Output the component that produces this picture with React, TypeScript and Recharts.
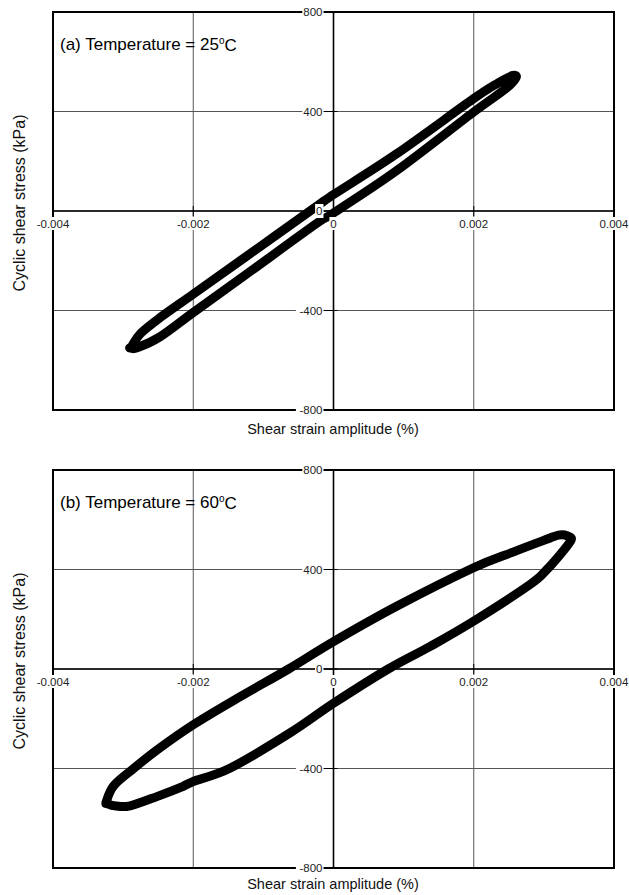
import React from 'react';
import { LineChart, Line, XAxis, YAxis, CartesianGrid, ReferenceLine, ReferenceArea } from 'recharts';

// ---- axis ticks ----
const xTicks = [-0.004, -0.002, 0, 0.002, 0.004];
const xTickLabels = ['-0.004', '-0.002', '0', '0.002', '0.004'];
const yTicks = [-800, -400, 0, 400, 800];
const yTickLabels = ['-800', '-400', '0', '400', '800'];

// ---- (a) 25 C hysteresis loop (strain, stress kPa) ----
const strain25 = [
  -0.00288, -0.00275, -0.00247, -0.002, -0.00128, -0.00025, 0.0, 0.0009, 0.00199, 0.00235, 0.00256,
  0.0026, 0.00245, 0.00199, 0.0009, 0.0, -0.00025, -0.00128, -0.002, -0.00247, -0.0028, -0.0029, -0.00288,
];
const stress25 = [
  -545, -492, -428, -334, -190, 17, 66, 230, 450, 515, 545,
  535, 490, 396, 162, -8, -52, -262, -408, -505, -550, -550, -545,
];

// ---- (b) 60 C hysteresis loop (strain, stress kPa) ----
const strain60 = [
  -0.00324, -0.00313, -0.00285, -0.00251, -0.002, -0.00133, -0.00064, 0.0, 0.0009, 0.00199, 0.00256,
  0.00299, 0.00321, 0.00334, 0.00339,
  0.00327, 0.00304, 0.0028, 0.00199, 0.00138, 0.00078, 0.0, -0.00062, -0.00147, -0.002, -0.00218,
  -0.00251, -0.0029, -0.0031, -0.00322, -0.00324,
];
const stress60 = [
  -533, -468, -400, -324, -224, -111, 0, 110, 252, 406, 470,
  516, 538, 535, 520,
  473, 399, 339, 191, 91, 0, -138, -257, -398, -452, -476,
  -512, -550, -551, -542, -533,
];

const loop25 = strain25.map((x, i) => ({ x, y: stress25[i] }));
const loop60 = strain60.map((x, i) => ({ x, y: stress60[i] }));

// Catmull-Rom style smooth curve through the given points (closed if first == last)
function smoothLoop(context: any) {
  let pts: number[][] = [];
  return {
    areaStart() {},
    areaEnd() {},
    lineStart() {
      pts = [];
    },
    point(x: number, y: number) {
      pts.push([+x, +y]);
    },
    lineEnd() {
      const n = pts.length;
      if (!n) return;
      context.moveTo(pts[0][0], pts[0][1]);
      if (n < 2) return;
      const closed = Math.abs(pts[0][0] - pts[n - 1][0]) < 0.01 && Math.abs(pts[0][1] - pts[n - 1][1]) < 0.01;
      const get = (i: number) => {
        if (i < 0) return closed ? pts[n - 2] : pts[0];
        if (i > n - 1) return closed ? pts[1] : pts[n - 1];
        return pts[i];
      };
      const t = 1 / 6;
      for (let i = 0; i < n - 1; i++) {
        const p0 = get(i - 1);
        const p1 = pts[i];
        const p2 = pts[i + 1];
        const p3 = get(i + 2);
        context.bezierCurveTo(
          p1[0] + (p2[0] - p0[0]) * t,
          p1[1] + (p2[1] - p0[1]) * t,
          p2[0] - (p3[0] - p1[0]) * t,
          p2[1] - (p3[1] - p1[1]) * t,
          p2[0],
          p2[1],
        );
      }
      if (closed) context.closePath();
    },
  };
}

const PLOT_W = 561;
const PLOT_H = 398;
const FONT = '"Liberation Sans", Arial, Helvetica, sans-serif';
const TICK_FS = 11.5;

function XTick(props: any) {
  const { x, y, payload } = props;
  const cx = x;
  const cy = y - PLOT_H / 2;
  const idx = xTicks.indexOf(payload.value);
  const label = idx >= 0 ? xTickLabels[idx] : String(payload.value);
  const w = label.length * 6.2 + 2;
  return (
    <g>
      <line x1={cx} x2={cx} y1={cy - 5} y2={cy + 5} stroke="#000" strokeWidth={1} />
      <rect x={cx - w / 2} y={cy + 6} width={w} height={13} fill="#fff" />
      <text x={cx} y={cy + 12.5} textAnchor="middle" dominantBaseline="central" fontSize={TICK_FS} fill="#222" fontFamily={FONT}>
        {label}
      </text>
    </g>
  );
}

function YTick(props: any) {
  const { x, y, payload } = props;
  const cx = x + PLOT_W / 2;
  const idx = yTicks.indexOf(payload.value);
  const label = idx >= 0 ? yTickLabels[idx] : String(payload.value);
  const w = label.length * 6.4 + 1;
  return (
    <g>
      <line x1={cx - 10} x2={cx + 4} y1={y} y2={y} stroke="#000" strokeWidth={1} />
      <rect x={cx - 11 - w} y={y - 7} width={w + 1} height={14} fill="#fff" />
      <text x={cx - 11} y={y} textAnchor="end" dominantBaseline="central" fontSize={TICK_FS} fill="#222" fontFamily={FONT}>
        {label}
      </text>
    </g>
  );
}

function Panel({ data, height, margin }: { data: { x: number; y: number }[]; height: number; margin: any }) {
  return (
    <LineChart width={629} height={height} margin={margin}>
      <CartesianGrid stroke="#555" strokeWidth={1} />
      <ReferenceLine x={0} stroke="#000" strokeWidth={1.6} />
      <ReferenceLine y={0} stroke="#000" strokeWidth={1.6} />
      <ReferenceArea x1={-0.004} x2={0.004} y1={-800} y2={800} fill="none" fillOpacity={0} stroke="#000" strokeWidth={2} />
      <Line
        data={data}
        dataKey="y"
        type={smoothLoop as any}
        stroke="#000"
        strokeWidth={9}
        strokeLinejoin="round"
        strokeLinecap="round"
        dot={false}
        activeDot={false}
        isAnimationActive={false}
      />
      <XAxis
        type="number"
        dataKey="x"
        domain={[-0.004, 0.004]}
        ticks={xTicks}
        interval={0}
        height={20}
        tickSize={0}
        tickMargin={0}
        axisLine={false}
        tickLine={false}
        tick={<XTick />}
        allowDataOverflow
      />
      <YAxis
        type="number"
        domain={[-800, 800]}
        ticks={yTicks}
        interval={0}
        width={20}
        tickSize={0}
        tickMargin={0}
        axisLine={false}
        tickLine={false}
        tick={<YTick />}
        allowDataOverflow
      />
    </LineChart>
  );
}

export default function App() {
  return (
    <div style={{ position: 'absolute', left: 0, top: 0, width: 629, height: 895, background: '#fff', overflow: 'hidden' }}>
      <div style={{ position: 'absolute', left: 0, top: 0 }}>
        <Panel data={loop25} height={450} margin={{ top: 12, right: 15, bottom: 20, left: 33 }} />
      </div>
      <div style={{ position: 'absolute', left: 0, top: 458 }}>
        <Panel data={loop60} height={437} margin={{ top: 12, right: 15, bottom: 7, left: 33 }} />
      </div>
      <svg width={629} height={895} style={{ position: 'absolute', left: 0, top: 0, pointerEvents: 'none' }}>
        <text x={60} y={44.5} dominantBaseline="central" fontSize={17} fill="#000" fontFamily={FONT}>
          (a) Temperature = 25<tspan dy={-5} fontSize={10}>o</tspan><tspan dy={5}>C</tspan>
        </text>
        <text x={60} y={502.5} dominantBaseline="central" fontSize={17} fill="#000" fontFamily={FONT}>
          (b) Temperature = 60<tspan dy={-5} fontSize={10}>o</tspan><tspan dy={5}>C</tspan>
        </text>
        <text x={333} y={429} textAnchor="middle" dominantBaseline="central" fontSize={14.5} fill="#111" fontFamily={FONT}>
          Shear strain amplitude (%)
        </text>
        <text x={333} y={884} textAnchor="middle" dominantBaseline="central" fontSize={14.5} fill="#111" fontFamily={FONT}>
          Shear strain amplitude (%)
        </text>
        <text transform="translate(19,203) rotate(-90)" textAnchor="middle" dominantBaseline="central" fontSize={16} fill="#111" fontFamily={FONT}>
          Cyclic shear stress (kPa)
        </text>
        <text transform="translate(19,661) rotate(-90)" textAnchor="middle" dominantBaseline="central" fontSize={16} fill="#111" fontFamily={FONT}>
          Cyclic shear stress (kPa)
        </text>
      </svg>
    </div>
  );
}
